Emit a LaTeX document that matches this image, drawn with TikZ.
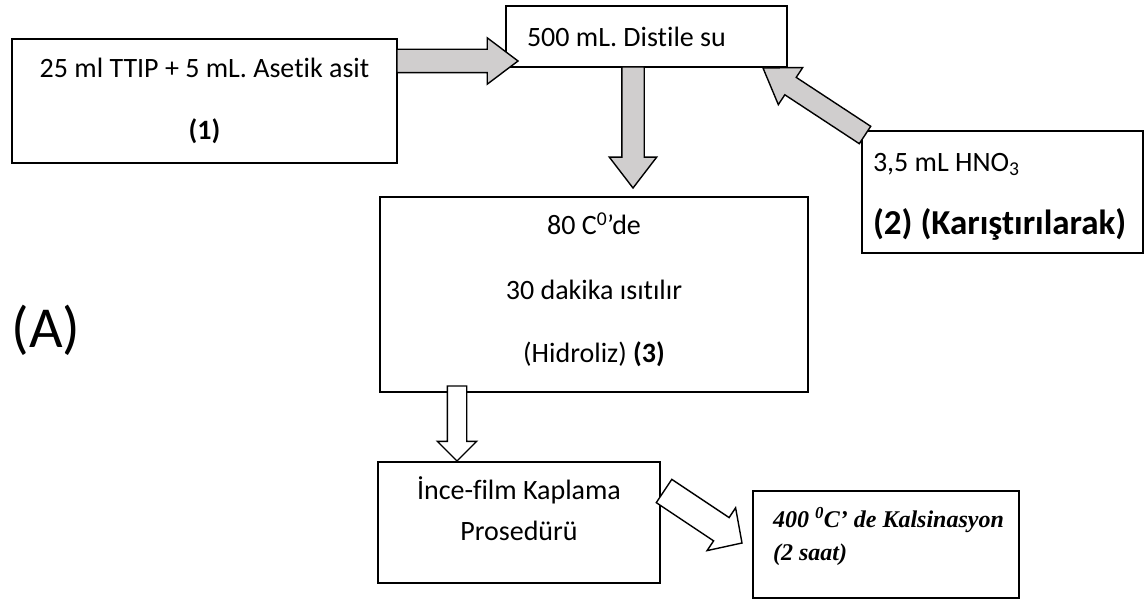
\documentclass[tikz,border=0pt]{standalone}
\usepackage{fontspec}
\setmainfont{Carlito}[Ligatures={TeX,NoCommon}]
\newfontfamily\timesfont{Liberation Serif}[Ligatures={TeX,NoCommon}]
\usetikzlibrary{shapes.arrows,calc}
\definecolor{arrowgray}{RGB}{208,206,206}
\newcommand{\natsp}{\spaceskip=0pt\xspaceskip=0pt\relax}

\newcommand{\fatarrow}[3][]{%
  \path let \p1=(#2), \p2=(#3), \n1={atan2(\y2-\y1,\x2-\x1)}, \n2={veclen(\x2-\x1,\y2-\y1)} in
    node[fat, #1, minimum height=\n2, rotate=\n1, anchor=tail] at (\p1) {};}

\begin{document}
\begin{tikzpicture}[x=1pt, y=-1pt,
  box/.style={draw, line width=1.6pt, font=\fontsize{28}{34}\selectfont},
  fat/.style={single arrow, draw, line width=1.4pt, inner xsep=0pt, outer sep=0pt},
  grayfat/.style={fat, fill=arrowgray},
  whitefat/.style={fat, fill=white}]
\useasboundingbox (0,0) rectangle (1146,602);

\node (ttip) [box, minimum width=385, minimum height=124, align=center] at (204.5,101)
  {25 ml TTIP + 5 mL. Asetik asit\\[28pt]\textbf{(1)}};
\node (su) [box, minimum height=61, text width=239, inner xsep=21, align=left] at (646.5,36.5)
  {\natsp 500 mL. Distile su};
\node (hno) [box, minimum height=122, text width=259, inner xsep=11, align=left, text height=28pt] at (1002.5,192)
  {\natsp 3,5 mL HNO\textsubscript{3}\\[29pt]{\fontsize{35}{40}\selectfont\bfseries\natsp (2) (Karıştırılarak)}};
\node (isit) [box, minimum width=428, minimum height=195, align=center, text depth=13pt] at (594,294.5)
  {80 C\textsuperscript{0}’de\\[31pt]30 dakika ısıtılır\\[29pt](Hidroliz) \textbf{(3)}};
\node (kaplama) [box, minimum width=282, minimum height=121, align=center, text depth=28pt] at (519,522.5)
  {İnce-film Kaplama\\[7pt]Prosedürü};
\node (kalsin) [box, minimum height=107, text width=226, inner xsep=20, align=left, text depth=55pt,
  font=\timesfont\bfseries\itshape\fontsize{24}{33}\selectfont] at (886,544.5)
  {\natsp\mbox{400 \textsuperscript{0}C’ de Kalsinasyon}\\(2 saat)};
\node (A) at (46,330) {\fontsize{58}{70}\selectfont (A)};

\coordinate (a1s) at (397,61);
\coordinate (a1e) at (518,61);
\coordinate (a2s) at (633,67);
\coordinate (a2e) at (633,188);
\coordinate (a3s) at (865,135);
\coordinate (a3e) at (763,68);
\coordinate (a4s) at (457,386);
\coordinate (a4e) at (457,461);
\coordinate (a5s) at (664,491);
\coordinate (a5e) at (742,543);

\fatarrow[grayfat, name=ttip-su, inner ysep=11pt, single arrow head extend=11.5pt, single arrow tip angle=74]{a1s}{a1e}
\fatarrow[grayfat, name=su-isit, inner ysep=10.5pt, single arrow head extend=12.5pt, single arrow tip angle=75]{a2s}{a2e}
\fatarrow[grayfat, name=hno-su, inner ysep=9.7pt, single arrow head extend=11.8pt, single arrow tip angle=68]{a3s}{a3e}
\fatarrow[whitefat, name=isit-kaplama, inner ysep=9pt, single arrow head extend=10pt, single arrow tip angle=90]{a4s}{a4e}
\fatarrow[whitefat, name=kaplama-kalsin, inner ysep=13.3pt, single arrow head extend=11.7pt, single arrow tip angle=92]{a5s}{a5e}
\end{tikzpicture}
\end{document}
